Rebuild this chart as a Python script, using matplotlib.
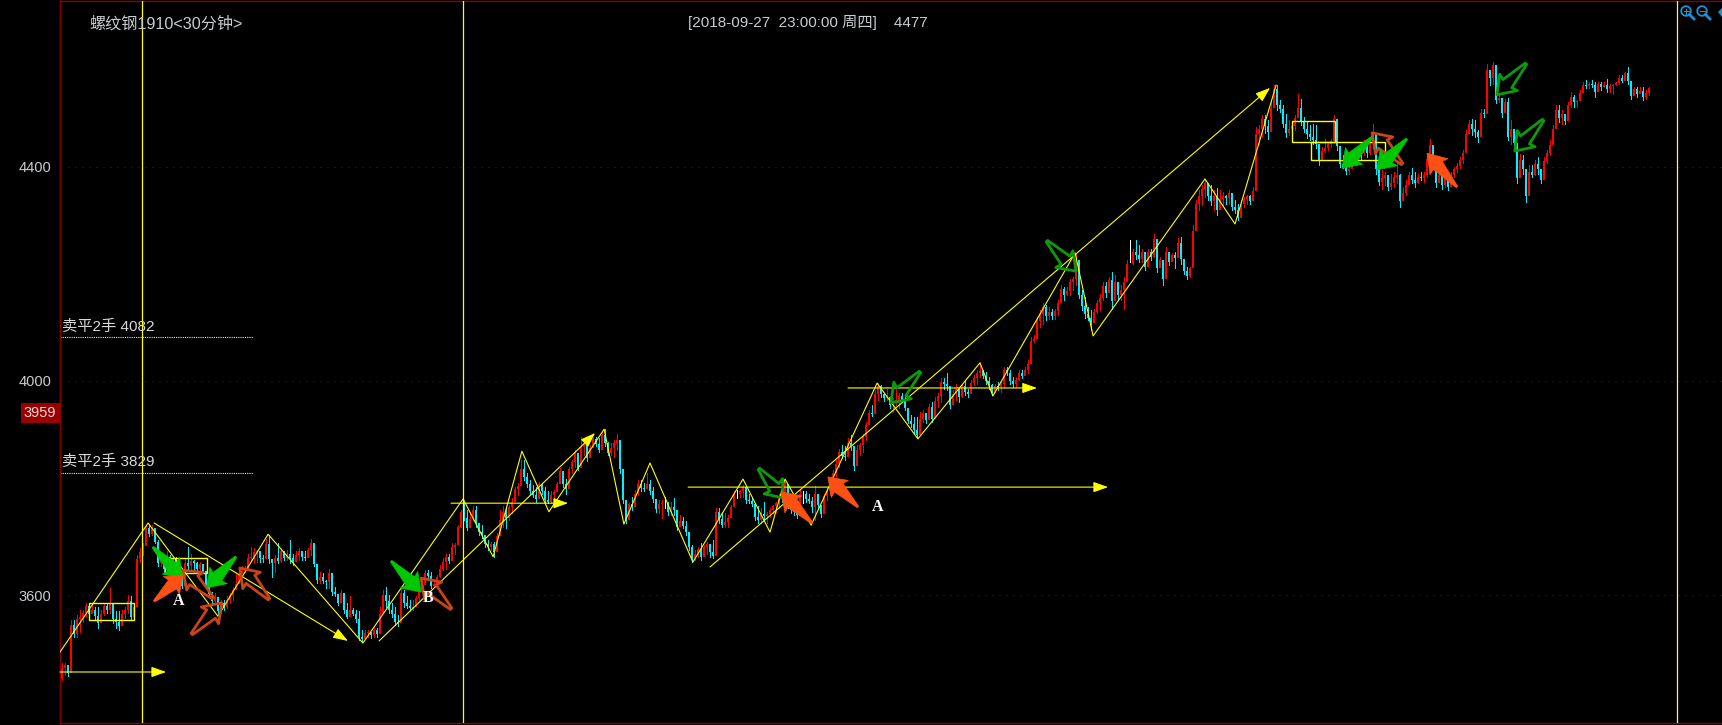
import matplotlib
matplotlib.use("Agg")
import matplotlib.pyplot as plt
import numpy as np
from matplotlib.patches import Polygon, Rectangle, Circle

# 30 minute bars
first_open = 3445
closes = [
    3465, 3470, 3455, 3545, 3528, 3556, 3560, 3568, 3580, 3565,
    3572, 3562, 3548, 3565, 3580, 3572, 3585, 3555, 3550, 3542,
    3565, 3572, 3590, 3560, 3578, 3668, 3680, 3692, 3725, 3715,
    3725, 3700, 3660, 3665, 3650, 3672, 3652, 3668, 3650, 3635,
    3618, 3660, 3655, 3665, 3660, 3650, 3658, 3645, 3620, 3602,
    3590, 3597, 3570, 3585, 3578, 3592, 3600, 3610, 3622, 3640,
    3645, 3650, 3670, 3672, 3680, 3682, 3670, 3668, 3695, 3668,
    3660, 3670, 3665, 3682, 3670, 3678, 3670, 3662, 3675, 3682,
    3672, 3670, 3684, 3698, 3658, 3628, 3635, 3626, 3625, 3642,
    3606, 3603, 3586, 3605, 3572, 3560, 3572, 3566, 3556, 3522,
    3518, 3530, 3532, 3526, 3535, 3528, 3565, 3600, 3590, 3572,
    3565, 3550, 3548, 3605, 3585, 3580, 3576, 3578, 3595, 3606,
    3620, 3642, 3636, 3618, 3622, 3634, 3650, 3662, 3672, 3665,
    3690, 3694, 3728, 3755, 3745, 3726, 3742, 3760, 3735, 3718,
    3712, 3696, 3690, 3695, 3680, 3710, 3740, 3755, 3745, 3765,
    3775, 3798, 3805, 3835, 3820, 3808, 3795, 3788, 3780, 3808,
    3794, 3778, 3775, 3788, 3792, 3808, 3832, 3808, 3798, 3835,
    3848, 3866, 3838, 3876, 3880, 3856, 3875, 3892, 3882, 3872,
    3900, 3884, 3866, 3875, 3885, 3890, 3835, 3778, 3740, 3770,
    3765, 3790, 3808, 3800, 3798, 3808, 3795, 3780, 3762, 3770,
    3772, 3772, 3756, 3765, 3760, 3728, 3738, 3730, 3718, 3690,
    3670, 3678, 3686, 3672, 3690, 3695, 3680, 3674, 3755, 3742,
    3732, 3736, 3745, 3765, 3790, 3790, 3795, 3802, 3778, 3776,
    3770, 3746, 3740, 3752, 3748, 3752, 3760, 3766, 3772, 3785,
    3780, 3808, 3768, 3760, 3755, 3750, 3790, 3790, 3780, 3776,
    3765, 3790, 3768, 3752, 3785, 3795, 3808, 3828, 3845, 3868,
    3860, 3858, 3885, 3878, 3842, 3872, 3880, 3895, 3918, 3940,
    3938, 3975, 3990, 3975, 3968, 3970, 3955, 3960, 3965, 3972,
    3965, 3950, 3926, 3920, 3908, 3900, 3930, 3940, 3928, 3952,
    3930, 3962, 3972, 3998, 3994, 3990, 3955, 3975, 3985, 3970,
    3990, 3980, 3975, 3996, 4006, 4014, 4018, 4010, 4000, 3992,
    3978, 3990, 3988, 3995, 4020, 4015, 4000, 3994, 4002, 4014,
    4010, 4020, 4032, 4075, 4078, 4112, 4125, 4138, 4122, 4128,
    4122, 4130, 4145, 4172, 4160, 4168, 4185, 4190, 4225, 4160,
    4140, 4125, 4118, 4108, 4128, 4145, 4155, 4178, 4165, 4188,
    4150, 4185, 4160, 4170, 4185, 4218, 4218, 4240, 4235, 4228,
    4240, 4212, 4240, 4232, 4265, 4210, 4225, 4190, 4240, 4222,
    4235, 4230, 4258, 4228, 4205, 4196, 4210, 4280, 4330, 4345,
    4358, 4370, 4345, 4335, 4345, 4320, 4340, 4345, 4342, 4350,
    4325, 4320, 4305, 4330, 4340, 4345, 4335, 4355, 4460, 4470,
    4488, 4475, 4465, 4510, 4545, 4515, 4508, 4480, 4462, 4470,
    4475, 4490, 4510, 4485, 4470, 4460, 4455, 4450, 4442, 4410,
    4430, 4434, 4442, 4448, 4488, 4438, 4405, 4400, 4392, 4395,
    4415, 4420, 4430, 4425, 4440, 4425, 4445, 4460, 4395, 4372,
    4378, 4385, 4362, 4370, 4380, 4385, 4335, 4350, 4365, 4385,
    4375, 4370, 4380, 4378, 4385, 4415, 4440, 4405, 4370, 4385,
    4365, 4380, 4362, 4385, 4395, 4402, 4412, 4425, 4460, 4480,
    4470, 4465, 4455, 4500, 4498, 4580, 4565, 4590, 4525, 4528,
    4500, 4520, 4455, 4470, 4445, 4378, 4412, 4395, 4345, 4390,
    4385, 4405, 4395, 4375, 4410, 4425, 4440, 4470, 4505, 4490,
    4498, 4485, 4515, 4530, 4520, 4522, 4538, 4552, 4550, 4555,
    4552, 4540, 4555, 4548, 4552, 4545, 4550, 4552, 4556, 4565,
    4560, 4575, 4560, 4532, 4545, 4535, 4542, 4530, 4538, 4546,
]
highs = [
    3473, 3474, 3467, 3554, 3554, 3563, 3573, 3573, 3585, 3585,
    3585, 3579, 3579, 3573, 3585, 3585, 3613, 3570, 3570, 3570,
    3573, 3579, 3601, 3598, 3585, 3675, 3688, 3697, 3731, 3734,
    3731, 3725, 3703, 3678, 3666, 3682, 3675, 3672, 3672, 3660,
    3641, 3669, 3690, 3678, 3666, 3663, 3663, 3654, 3629, 3616,
    3607, 3604, 3585, 3591, 3591, 3598, 3604, 3616, 3641, 3644,
    3654, 3654, 3678, 3690, 3688, 3685, 3682, 3675, 3706, 3713,
    3666, 3675, 3697, 3688, 3682, 3685, 3703, 3678, 3682, 3688,
    3682, 3682, 3688, 3705, 3694, 3644, 3644, 3641, 3629, 3649,
    3626, 3616, 3598, 3610, 3591, 3585, 3598, 3576, 3573, 3570,
    3535, 3535, 3535, 3532, 3539, 3539, 3579, 3610, 3616, 3601,
    3585, 3579, 3563, 3613, 3610, 3598, 3591, 3591, 3598, 3610,
    3626, 3647, 3647, 3644, 3629, 3638, 3657, 3669, 3678, 3678,
    3697, 3697, 3731, 3759, 3772, 3759, 3753, 3766, 3766, 3731,
    3731, 3710, 3703, 3700, 3700, 3716, 3759, 3766, 3763, 3769,
    3781, 3803, 3809, 3853, 3853, 3828, 3815, 3806, 3803, 3812,
    3809, 3803, 3794, 3794, 3797, 3812, 3837, 3822, 3818, 3840,
    3853, 3871, 3865, 3896, 3884, 3874, 3881, 3896, 3896, 3893,
    3906, 3911, 3887, 3884, 3890, 3902, 3859, 3797, 3759, 3772,
    3784, 3797, 3815, 3815, 3809, 3828, 3815, 3803, 3778, 3778,
    3778, 3784, 3775, 3775, 3781, 3750, 3750, 3747, 3738, 3716,
    3694, 3685, 3691, 3697, 3694, 3700, 3691, 3703, 3763, 3763,
    3756, 3753, 3750, 3769, 3794, 3797, 3797, 3806, 3803, 3790,
    3784, 3772, 3766, 3763, 3775, 3756, 3763, 3769, 3775, 3790,
    3803, 3812, 3790, 3778, 3775, 3763, 3797, 3794, 3794, 3790,
    3784, 3804, 3784, 3769, 3790, 3800, 3815, 3834, 3853, 3874,
    3881, 3878, 3893, 3899, 3871, 3881, 3884, 3902, 3924, 3946,
    3955, 3983, 3996, 3993, 3977, 3986, 3965, 3968, 3986, 3977,
    3977, 3970, 3945, 3936, 3933, 3933, 3942, 3945, 3939, 3958,
    3961, 3970, 3977, 4005, 4005, 4014, 3986, 3983, 3995, 3986,
    3995, 4001, 3986, 4001, 4011, 4020, 4034, 4020, 4017, 4008,
    3995, 3995, 3998, 3998, 4026, 4026, 4020, 4008, 4008, 4020,
    4020, 4026, 4039, 4082, 4085, 4120, 4132, 4145, 4141, 4138,
    4135, 4135, 4151, 4179, 4176, 4176, 4191, 4194, 4238, 4222,
    4169, 4157, 4138, 4132, 4135, 4151, 4163, 4185, 4185, 4194,
    4204, 4197, 4176, 4179, 4194, 4225, 4264, 4247, 4264, 4253,
    4247, 4238, 4247, 4247, 4275, 4232, 4232, 4219, 4250, 4238,
    4238, 4241, 4266, 4269, 4225, 4213, 4213, 4291, 4338, 4356,
    4366, 4377, 4366, 4366, 4356, 4360, 4356, 4353, 4347, 4356,
    4344, 4337, 4331, 4337, 4344, 4347, 4347, 4362, 4474, 4477,
    4496, 4496, 4487, 4524, 4552, 4552, 4524, 4515, 4499, 4487,
    4484, 4496, 4536, 4527, 4493, 4484, 4477, 4480, 4477, 4443,
    4437, 4452, 4446, 4452, 4496, 4487, 4424, 4421, 4421, 4409,
    4421, 4424, 4434, 4437, 4449, 4452, 4452, 4480, 4443, 4403,
    4393, 4390, 4375, 4387, 4390, 4406, 4387, 4362, 4375, 4390,
    4397, 4390, 4387, 4390, 4390, 4424, 4451, 4424, 4393, 4390,
    4387, 4387, 4384, 4390, 4400, 4406, 4418, 4431, 4468, 4487,
    4488, 4487, 4468, 4508, 4508, 4592, 4580, 4596, 4568, 4536,
    4527, 4527, 4529, 4487, 4462, 4428, 4424, 4421, 4387, 4403,
    4403, 4412, 4418, 4390, 4418, 4431, 4449, 4477, 4515, 4515,
    4505, 4493, 4521, 4540, 4533, 4524, 4543, 4558, 4561, 4558,
    4561, 4558, 4558, 4558, 4558, 4564, 4555, 4555, 4558, 4571,
    4571, 4577, 4585, 4550, 4549, 4549, 4549, 4549, 4543, 4549,
]
lows = [
    3442, 3451, 3450, 3486, 3523, 3523, 3532, 3551, 3560, 3557,
    3567, 3554, 3539, 3560, 3563, 3567, 3567, 3548, 3539, 3535,
    3548, 3557, 3567, 3554, 3557, 3634, 3663, 3675, 3703, 3710,
    3713, 3697, 3654, 3654, 3644, 3644, 3644, 3647, 3644, 3629,
    3613, 3632, 3650, 3650, 3644, 3644, 3644, 3641, 3613, 3598,
    3585, 3585, 3563, 3567, 3573, 3576, 3585, 3591, 3616, 3629,
    3641, 3644, 3650, 3666, 3660, 3663, 3663, 3663, 3675, 3660,
    3635, 3644, 3660, 3663, 3666, 3666, 3660, 3657, 3672, 3666,
    3666, 3666, 3672, 3675, 3654, 3623, 3623, 3623, 3613, 3613,
    3601, 3598, 3582, 3588, 3567, 3557, 3567, 3563, 3551, 3517,
    3514, 3520, 3523, 3520, 3523, 3523, 3530, 3576, 3579, 3567,
    3560, 3545, 3542, 3585, 3579, 3576, 3573, 3573, 3582, 3591,
    3613, 3629, 3632, 3613, 3616, 3623, 3635, 3647, 3650, 3660,
    3675, 3678, 3719, 3728, 3741, 3722, 3738, 3741, 3728, 3713,
    3707, 3691, 3685, 3685, 3672, 3691, 3735, 3728, 3725, 3741,
    3753, 3778, 3787, 3822, 3815, 3803, 3790, 3784, 3775, 3794,
    3790, 3772, 3772, 3772, 3778, 3794, 3809, 3803, 3790, 3815,
    3828, 3840, 3834, 3868, 3862, 3850, 3862, 3878, 3878, 3868,
    3884, 3878, 3862, 3862, 3859, 3871, 3828, 3772, 3735, 3756,
    3759, 3772, 3787, 3794, 3794, 3803, 3790, 3775, 3756, 3753,
    3744, 3763, 3750, 3750, 3750, 3722, 3731, 3725, 3713, 3685,
    3663, 3666, 3672, 3666, 3682, 3678, 3672, 3669, 3728, 3735,
    3728, 3728, 3728, 3747, 3772, 3781, 3783, 3784, 3772, 3772,
    3766, 3741, 3735, 3735, 3741, 3735, 3747, 3753, 3756, 3763,
    3775, 3790, 3763, 3753, 3750, 3744, 3775, 3772, 3775, 3772,
    3756, 3741, 3763, 3747, 3769, 3778, 3787, 3809, 3822, 3840,
    3856, 3853, 3862, 3871, 3834, 3859, 3862, 3868, 3890, 3921,
    3934, 3958, 3965, 3971, 3962, 3965, 3949, 3943, 3955, 3949,
    3961, 3945, 3921, 3914, 3902, 3893, 3908, 3924, 3921, 3933,
    3924, 3942, 3952, 3961, 3986, 3983, 3949, 3961, 3964, 3961,
    3970, 3973, 3970, 3986, 3992, 3995, 4008, 4005, 3995, 3986,
    3973, 3983, 3983, 3980, 3989, 4011, 3995, 3989, 3989, 4001,
    4005, 4011, 4014, 4039, 4073, 4085, 4101, 4107, 4113, 4116,
    4116, 4116, 4123, 4151, 4151, 4160, 4160, 4169, 4179, 4154,
    4132, 4117, 4113, 4095, 4113, 4126, 4132, 4151, 4157, 4169,
    4135, 4160, 4151, 4151, 4135, 4207, 4222, 4219, 4228, 4222,
    4222, 4207, 4228, 4225, 4232, 4204, 4216, 4179, 4207, 4216,
    4225, 4210, 4232, 4219, 4200, 4191, 4194, 4235, 4297, 4319,
    4328, 4343, 4338, 4328, 4319, 4310, 4331, 4328, 4331, 4331,
    4319, 4313, 4300, 4313, 4325, 4331, 4331, 4337, 4362, 4443,
    4456, 4462, 4452, 4499, 4518, 4505, 4502, 4474, 4456, 4459,
    4465, 4468, 4502, 4477, 4465, 4453, 4449, 4443, 4434, 4403,
    4418, 4428, 4431, 4437, 4456, 4431, 4400, 4397, 4387, 4387,
    4397, 4403, 4406, 4412, 4421, 4418, 4424, 4434, 4387, 4365,
    4359, 4365, 4356, 4359, 4362, 4369, 4325, 4341, 4347, 4375,
    4369, 4362, 4369, 4375, 4372, 4381, 4418, 4397, 4362, 4372,
    4359, 4362, 4356, 4372, 4381, 4390, 4397, 4406, 4437, 4468,
    4459, 4456, 4446, 4462, 4493, 4518, 4552, 4555, 4518, 4521,
    4493, 4508, 4449, 4443, 4437, 4369, 4400, 4387, 4334, 4362,
    4381, 4384, 4387, 4370, 4384, 4406, 4421, 4449, 4480, 4484,
    4480, 4480, 4490, 4512, 4512, 4512, 4524, 4540, 4546, 4546,
    4549, 4530, 4546, 4543, 4549, 4540, 4540, 4536, 4552, 4555,
    4558, 4564, 4555, 4527, 4533, 4530, 4537, 4525, 4527, 4533,
]

price_ticks = [3600, 4000, 4400]
stop_levels = [4082, 3829]
stop_labels = ["卖平2手 4082", "卖平2手 3829"]
cursor_bars = [26.5, 133.5, 538.3]

# hand drawn trend lines, bar number and price
zigzag_bars = [-0.7, 28.7, 52, 68.7, 100.3, 133.7, 143.7, 153.3, 162.3, 180.7,
               187.3, 196, 210.3, 227, 236, 241, 249.7, 271.7, 285.3, 306,
               310.3, 337.7, 343.7, 381, 391, 404.7]
zigzag_prices = [3494, 3735, 3561, 3714, 3511, 3780, 3672, 3869, 3756, 3910,
                 3733, 3847, 3662, 3817, 3718, 3817, 3731, 3996, 3892, 4034,
                 3972, 4239, 4084, 4377, 4293, 4552]
# (start bar, start price, end bar, end price)
trend_arrows = [(30.7, 3735, 95.3, 3515), (105.7, 3515, 177.7, 3903), (216, 3653, 402.7, 4547),
                (-0.7, 3457, 34.7, 3457), (129.7, 3772, 168.7, 3772),
                (208.7, 3802, 348.7, 3802), (262, 3987, 325, 3987)]
# (first bar, last bar, low, high)
boxes = [(9, 24, 3554, 3586), (34.3, 48.3, 3642, 3670),
         (410, 424.3, 4446, 4485), (416.3, 441, 4412, 4446)]

green_solid = [(30.3, 3690, 40.3, 3632), (58, 3672, 48.3, 3614), (109.7, 3664, 119.7, 3606),
               (436.7, 4455, 426.7, 4397), (448.3, 4452, 438.3, 4394)]
orange_solid = [(30.7, 3589, 40.3, 3638), (250, 3735, 239.7, 3793),
                (265.3, 3765, 255.3, 3821), (465, 4362, 455, 4425)]
orange_hollow = [(50.3, 3595, 40.3, 3647), (43.3, 3528, 53.3, 3586), (69, 3593, 59.3, 3651),
                 (129.7, 3575, 119.7, 3632), (446.7, 4405, 436.7, 4463)]
green_hollow = [(232.3, 3836, 240.3, 3782), (286, 4017, 276.3, 3959), (328.3, 4261, 338, 4205),
                (488, 4592, 478.3, 4534), (493.7, 4487, 484.3, 4429)]
letters = [("A", 39, 3589), ("B", 122, 3595), ("A", 271.7, 3765)]

W, H = 1722, 725
UI_FONT = ['Liberation Sans', 'Noto Sans CJK SC']
YELLOW = '#ffff00'
RED = '#ff0000'
CYAN = '#00f0ff'
BORDER = '#8b0000'
GREY = '#c8ccd0'


def fat_arrow(ax, seg, face, edge, lw=0.0):
    # arrow outline worked out in screen pixels so it keeps its shape
    p0, p1 = ax.transData.transform([(seg[0], seg[1]), (seg[2], seg[3])])
    d = p1 - p0
    n = np.array([-d[1], d[0]]) / np.hypot(*d)
    shape = [(0.0, 1.0), (0.64, 6.0), (0.60, 12.0), (1.0, 0.0),
             (0.60, -12.0), (0.64, -6.0), (0.0, -1.0)]
    pts = [p0 + d * t + n * w for t, w in shape]
    pts = ax.transData.inverted().transform(pts)
    ax.add_patch(Polygon(pts, closed=True, facecolor=face, edgecolor=edge, linewidth=lw,
                         joinstyle='round', zorder=6))


fig = plt.figure(figsize=(W / 100, H / 100), dpi=100, facecolor='black')
ax = fig.add_axes([60 / W, 2 / H, (W - 60) / W, 722 / H], facecolor='black')
ax.set_xlim(-2 / 3, (W - 62) / 3)
ax.set_ylim(4000 - 342 * 1.866, 4000 + 380 * 1.866)

for side in ['left', 'top', 'bottom']:
    ax.spines[side].set_color(BORDER)
    ax.spines[side].set_linewidth(1.0)
ax.spines['right'].set_visible(False)
ax.set_xticks([])
ax.set_yticks(price_ticks)
ax.set_yticklabels([str(p) for p in price_ticks], family=UI_FONT, fontsize=10.5, color=GREY)
ax.tick_params(axis='y', length=0, pad=6)

ax.hlines(price_ticks, 2, 553.4, colors='#8b0000', linewidth=0.72, linestyles=(0, (1, 6)), zorder=1)
ax.hlines(stop_levels, -2 / 3, 63.7, colors='#e8e8e8', linewidth=0.8, linestyles=(0, (1, 1)), zorder=2)
for level, label in zip(stop_levels, stop_labels):
    ax.text(0, level + 6, label, family=UI_FONT, fontsize=11, color='#d8d8d8', va='bottom', ha='left', zorder=7)

# candles
bars = np.arange(len(closes))
close_arr = np.array(closes, dtype=float)
open_arr = np.r_[first_open, close_arr[:-1]]
colors = [RED if c > o else (CYAN if c < o else 'white') for o, c in zip(open_arr, close_arr)]
ax.vlines(bars, lows, highs, colors=colors, linewidth=0.72, antialiased=False, zorder=3)
ax.bar(bars, close_arr - open_arr, bottom=open_arr, width=2 / 3, color=colors, linewidth=0,
       antialiased=False, zorder=3)

for b in cursor_bars[:2]:
    ax.axvline(b, color=YELLOW, linewidth=0.9, zorder=4)
ax.axvline(cursor_bars[2], color='#ffee88', linewidth=0.9, zorder=4)

ax.plot(zigzag_bars, zigzag_prices, color=YELLOW, linewidth=0.8, zorder=5)
for x0, y0, x1, y1 in trend_arrows:
    ax.annotate('', xy=(x1, y1), xytext=(x0, y0), zorder=5,
                arrowprops=dict(arrowstyle='-|>,head_length=0.9,head_width=0.32', mutation_scale=10,
                                color=YELLOW, linewidth=0.8, shrinkA=0, shrinkB=0))
for x0, x1, low, high in boxes:
    ax.add_patch(Rectangle((x0, low), x1 - x0, high - low, fill=False, edgecolor=YELLOW, linewidth=1.0, zorder=5))

for seg in orange_hollow:
    fat_arrow(ax, seg, 'none', '#c8441a', 2.0)
for seg in green_hollow:
    fat_arrow(ax, seg, 'none', '#0c9a0c', 2.0)
for seg in green_solid:
    fat_arrow(ax, seg, '#00c800', '#00c800', 0.5)
for seg in orange_solid:
    fat_arrow(ax, seg, '#ff5014', '#ff5014', 0.5)
for name, b, p in letters:
    ax.text(b, p, name, family='Liberation Serif', fontweight='bold', fontsize=11.5,
            color='white', ha='center', va='center', zorder=7)

# header, price tag and toolbar, in plain pixels
ui = fig.add_axes([0, 0, 1, 1], facecolor='none')
ui.set_xlim(0, W)
ui.set_ylim(H, 0)
ui.axis('off')
ui.text(89, 23.5, "螺纹钢1910<30分钟>", family=UI_FONT, fontsize=11.6, color=GREY, va='center')
ui.text(688, 22, "[2018-09-27  23:00:00 周四]    4477", family=UI_FONT, fontsize=11, color=GREY, va='center')
ui.add_patch(Rectangle((21, 403), 39, 20, facecolor='#990000', edgecolor='none'))
ui.text(40, 413, "3959", family=UI_FONT, fontsize=10.5, color='#f0d8d8', ha='center', va='center')
BLUE = '#1c90d0'
for cx, sign in [(1686, '+'), (1702, '-')]:
    ui.add_patch(Circle((cx, 11), 4.8, fill=False, edgecolor=BLUE, linewidth=1.3))
    ui.plot([cx + 3.5, cx + 8], [14.5, 19], color=BLUE, linewidth=2)
    ui.plot([cx - 2.5, cx + 2.5], [11, 11], color=BLUE, linewidth=0.8)
    if sign == '+':
        ui.plot([cx, cx], [8.5, 13.5], color=BLUE, linewidth=0.8)
ui.add_patch(Polygon([(1718, 12), (1722, 8), (1722, 17)], closed=True, facecolor=BLUE, edgecolor='none'))

fig.savefig('out.png', dpi=100, facecolor='black')
